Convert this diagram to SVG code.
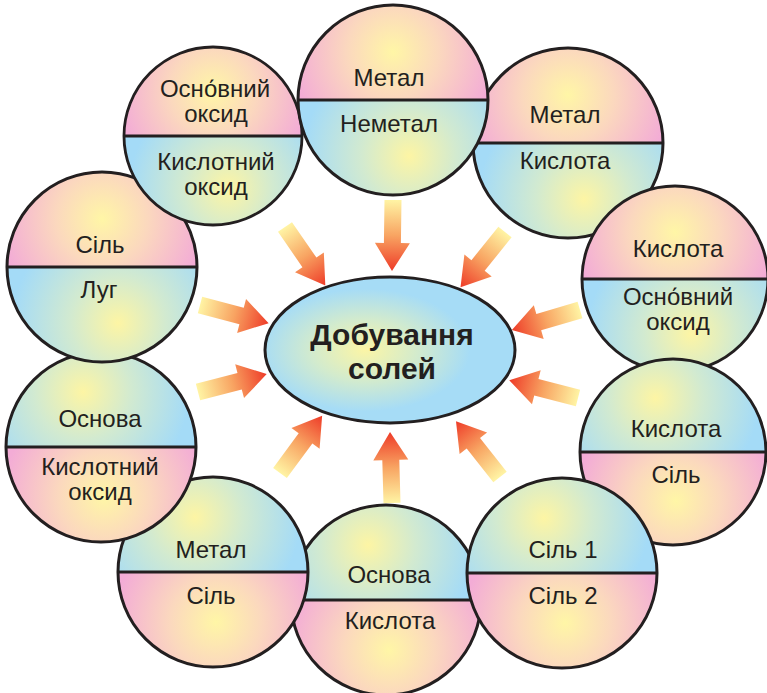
<svg xmlns="http://www.w3.org/2000/svg" xmlns:xlink="http://www.w3.org/1999/xlink" width="767" height="693" viewBox="0 0 767 693">
<style>
.lbl{font-family:"Liberation Sans",Arial,sans-serif;font-size:24px;fill:#231f20;text-anchor:middle}
.ttl{font-family:"Liberation Sans",Arial,sans-serif;font-size:30px;font-weight:bold;fill:#231f20;text-anchor:middle}
.edge{fill:none;stroke:#231f20;stroke-width:3}
.arr{fill:url(#gArrow)}
</style>
<defs>
<radialGradient id="gPinkTop" gradientUnits="userSpaceOnUse" cx="0" cy="-48" r="102">
<stop offset="0" stop-color="#fff6a6"/><stop offset="0.45" stop-color="#fbd8be"/><stop offset="1" stop-color="#f3acd6"/>
</radialGradient>
<radialGradient id="gBlueBot" gradientUnits="userSpaceOnUse" cx="16" cy="56" r="106">
<stop offset="0" stop-color="#fdf5a4"/><stop offset="0.45" stop-color="#d2ead0"/><stop offset="1" stop-color="#a4dbf7"/>
</radialGradient>
<radialGradient id="gBlueTop" gradientUnits="userSpaceOnUse" cx="-18" cy="-55" r="106">
<stop offset="0" stop-color="#fdf5a4"/><stop offset="0.45" stop-color="#d2ead0"/><stop offset="1" stop-color="#a4dbf7"/>
</radialGradient>
<radialGradient id="gPinkBot" gradientUnits="userSpaceOnUse" cx="3" cy="50" r="102">
<stop offset="0" stop-color="#fff6a6"/><stop offset="0.45" stop-color="#fbd8be"/><stop offset="1" stop-color="#f3acd6"/>
</radialGradient>
<radialGradient id="gCenter" cx="0.4" cy="0.5" r="0.42">
<stop offset="0" stop-color="#fbf5a6"/><stop offset="0.5" stop-color="#d3ebcd"/><stop offset="1" stop-color="#a6dcf6"/>
</radialGradient>
<linearGradient id="gArrow" x1="0" y1="0" x2="1" y2="0">
<stop offset="0" stop-color="#fff4a4"/><stop offset="0.5" stop-color="#f8a462"/><stop offset="1" stop-color="#ee3b28"/>
</linearGradient>
<path id="arrow" d="M0,-8.5 L43,-8.5 L43,-17.5 L71,0 L43,17.5 L43,8.5 L0,8.5 Z"/>
<g id="discPB">
<path d="M-95,0 A95,95 0 0 1 95,0 Z" fill="url(#gPinkTop)"/>
<path d="M-95,0 A95,95 0 0 0 95,0 Z" fill="url(#gBlueBot)"/>
<path class="edge" d="M-95,0 H95"/>
<circle class="edge" r="95"/>
</g>
<g id="discBP">
<path d="M-95,0 A95,95 0 0 1 95,0 Z" fill="url(#gBlueTop)"/>
<path d="M-95,0 A95,95 0 0 0 95,0 Z" fill="url(#gPinkBot)"/>
<path class="edge" d="M-95,0 H95"/>
<circle class="edge" r="95"/>
</g>
</defs>
<rect width="767" height="693" fill="#ffffff"/>

<g id="connectors">
<use href="#arrow" class="arr" transform="translate(393,200) rotate(90.8)"/>
<use href="#arrow" class="arr" transform="translate(285,227) rotate(55.4)"/>
<use href="#arrow" class="arr" transform="translate(505,232) rotate(128.8)"/>
<use href="#arrow" class="arr" transform="translate(580,310) rotate(163.6)"/>
<use href="#arrow" class="arr" transform="translate(578,398) rotate(194.4)"/>
<use href="#arrow" class="arr" transform="translate(500,477) rotate(231.7)"/>
<use href="#arrow" class="arr" transform="translate(392,503) rotate(268.4)"/>
<use href="#arrow" class="arr" transform="translate(280,473) rotate(306.4)"/>
<use href="#arrow" class="arr" transform="translate(198,392) rotate(345.4)"/>
<use href="#arrow" class="arr" transform="translate(200,305) rotate(14.8)"/>
</g>

<g id="center">
<ellipse cx="390" cy="350" rx="125" ry="73" fill="url(#gCenter)" stroke="#231f20" stroke-width="3"/>
<text class="ttl" x="392" y="345">Добування</text>
<text class="ttl" x="392" y="379">солей</text>
</g>

<g id="nodeC">
<use href="#discPB" transform="translate(568,143)"/>
<text class="lbl" x="565" y="123">Метал</text>
<text class="lbl" x="565" y="169">Кислота</text>
</g>
<g id="nodeG">
<use href="#discBP" transform="translate(386,600)"/>
<text class="lbl" x="389" y="583">Основа</text>
<text class="lbl" x="390" y="629">Кислота</text>
</g>
<g id="nodeD">
<use href="#discPB" transform="translate(675,279) scale(0.979)"/>
<text class="lbl" x="678" y="257">Кислота</text>
<text class="lbl" x="678" y="305">Осно́вний</text>
<text class="lbl" x="678" y="330">оксид</text>
</g>
<g id="nodeE">
<use href="#discBP" transform="translate(673,452) scale(0.979)"/>
<text class="lbl" x="676" y="437">Кислота</text>
<text class="lbl" x="676" y="483">Сіль</text>
</g>
<g id="nodeF">
<use href="#discBP" transform="translate(562,573)"/>
<text class="lbl" x="563" y="558">Сіль 1</text>
<text class="lbl" x="563" y="604">Сіль 2</text>
</g>
<g id="nodeH">
<use href="#discBP" transform="translate(213,572)"/>
<text class="lbl" x="211" y="558">Метал</text>
<text class="lbl" x="211" y="604">Сіль</text>
</g>
<g id="nodeI">
<use href="#discBP" transform="translate(101,447)"/>
<text class="lbl" x="100" y="427">Основа</text>
<text class="lbl" x="100" y="475">Кислотний</text>
<text class="lbl" x="100" y="500">оксид</text>
</g>
<g id="nodeJ">
<use href="#discPB" transform="translate(102,267)"/>
<text class="lbl" x="100" y="253">Сіль</text>
<text class="lbl" x="99" y="298">Луг</text>
</g>
<g id="nodeA">
<use href="#discPB" transform="translate(213,136) scale(0.937)"/>
<text class="lbl" x="215" y="97">Осно́вний</text>
<text class="lbl" x="216" y="122">оксид</text>
<text class="lbl" x="216" y="170">Кислотний</text>
<text class="lbl" x="216" y="195">оксид</text>
</g>
<g id="nodeB">
<use href="#discPB" transform="translate(393,100)"/>
<text class="lbl" x="389" y="86">Метал</text>
<text class="lbl" x="389" y="132">Неметал</text>
</g>
</svg>
